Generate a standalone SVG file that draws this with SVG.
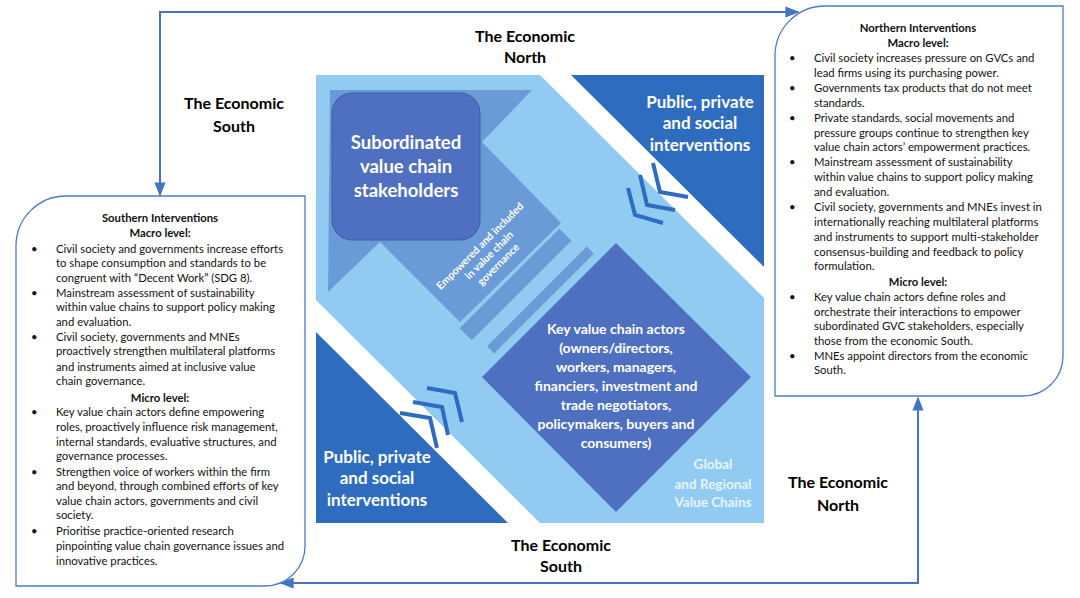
<svg xmlns="http://www.w3.org/2000/svg" width="1080" height="598" viewBox="0 0 1080 598">
<defs>
<marker id="ar" viewBox="0 0 10 10" refX="9" refY="5" markerWidth="7" markerHeight="7" orient="auto-start-reverse"><path d="M0,1 L10,5 L0,9 z" fill="#4472c4"/></marker>
<style>
text{font-family:Lato,"Open Sans","Liberation Sans",sans-serif}
.h{font-weight:bold;font-size:16px;fill:#000;text-anchor:middle}
.w{font-weight:bold;fill:#fff;text-anchor:middle}
.t{font-size:11.3px;fill:#111}
.tb{font-size:11.3px;fill:#111;font-weight:bold;text-anchor:middle}
.box{fill:#fff;stroke:#4a7bcc;stroke-width:1.3}
.ch{fill:none;stroke:#2e6cbf;stroke-width:4}
.con{fill:none;stroke:#4472c4;stroke-width:2}
</style>
</defs>
<rect width="1080" height="598" fill="#fff"/>
<g id="connectors">
<path class="con" d="M160,195 L160,12 L798,12" marker-start="url(#ar)" marker-end="url(#ar)"/>
<path class="con" d="M918,398 L918,583 L281,583" marker-start="url(#ar)" marker-end="url(#ar)"/>
</g>
<g id="gvc">
<polygon points="316,75 540,75 764,298 764,523 540,523 316,300" fill="#92cbf1"/>
<polygon points="571,75 764,75 764,267" fill="#2e6cbf"/>
<polygon points="316,332 316,523 508,523" fill="#2e6cbf"/>
<polygon points="330,90 532,90 482,142 561,223 460,322 380,242 328,292" fill="#6a9bd6"/>
<rect x="445" y="276" width="141" height="17" transform="rotate(-45 515.5 284.5)" fill="#6a9bd6"/>
<rect x="470" y="295" width="141" height="10" transform="rotate(-45 540.5 300)" fill="#6a9bd6"/>
<text class="w" font-size="10.5" font-weight="normal" transform="translate(491,257) rotate(-45)"><tspan x="0" y="-12">Empowered and included</tspan><tspan x="0" y="1">in value chain</tspan><tspan x="0" y="14">governance</tspan></text>
<g id="gvc-label"><text class="w" font-size="13.5"><tspan x="713" y="469" fill="#e8f4fd">Global</tspan><tspan x="713" y="489" fill="#e8f4fd">and Regional</tspan><tspan x="713" y="507" fill="#e8f4fd">Value Chains</tspan></text></g>
</g>
<g id="subordinated">
<rect x="332" y="93" width="148" height="147" rx="20" fill="#4f70c0" stroke="#3d5ca8"/>
<text class="w" font-size="18.5"><tspan x="406" y="149">Subordinated</tspan><tspan x="406" y="173">value chain</tspan><tspan x="406" y="197">stakeholders</tspan></text>
</g>
<g id="key-actors">
<polygon points="616,243 751,377 616,512 482,377" fill="#4f6fc0"/>
<text class="w" font-size="14"><tspan x="616" y="334">Key value chain actors</tspan><tspan x="616" y="353">(owners/directors,</tspan><tspan x="616" y="372">workers, managers,</tspan><tspan x="616" y="391">financiers, investment and</tspan><tspan x="616" y="410">trade negotiators,</tspan><tspan x="616" y="429">policymakers, buyers and</tspan><tspan x="616" y="448">consumers)</tspan></text>
</g>
<g id="interventions-north">
<text class="w" font-size="17"><tspan x="700" y="108">Public, private</tspan><tspan x="700" y="129">and social</tspan><tspan x="700" y="151">interventions</tspan></text>
<polyline class="ch" points="653,163 660,192 688,197"/>
<polyline class="ch" points="640,175 647,205 675,210"/>
<polyline class="ch" points="628,188 635,215 663,223"/>
</g>
<g id="interventions-south">
<text class="w" font-size="17"><tspan x="377" y="463">Public, private</tspan><tspan x="377" y="484">and social</tspan><tspan x="377" y="506">interventions</tspan></text>
<polyline class="ch" points="427,388 455,393 462,422"/>
<polyline class="ch" points="413,402 442,407 448,435"/>
<polyline class="ch" points="400,413 430,418 437,448"/>
</g>
<g id="labels">
<text class="h"><tspan x="525" y="42">The Economic</tspan><tspan x="525" y="63">North</tspan></text>
<text class="h"><tspan x="234" y="109">The Economic</tspan><tspan x="234" y="132">South</tspan></text>
<text class="h"><tspan x="561" y="551">The Economic</tspan><tspan x="561" y="572">South</tspan></text>
<text class="h"><tspan x="838" y="488">The Economic</tspan><tspan x="838" y="511">North</tspan></text>
</g>
<g id="southern">
<path class="box" d="M16,586 L16,246 A50,50 0 0 1 66,196 L305,196 L305,546 A40,40 0 0 1 265,586 Z"/>
<text class="tb"><tspan x="160" y="222">Southern Interventions</tspan><tspan x="160" y="237">Macro level:</tspan></text>
<text class="t"><tspan x="31" y="253">•</tspan><tspan x="56" y="253">Civil society and governments increase efforts</tspan>
<tspan x="56" y="267">to shape consumption and standards to be</tspan>
<tspan x="56" y="282">congruent with “Decent Work” (SDG 8).</tspan>
<tspan x="31" y="297">•</tspan><tspan x="56" y="297">Mainstream assessment of sustainability</tspan>
<tspan x="56" y="311">within value chains to support policy making</tspan>
<tspan x="56" y="326">and evaluation.</tspan>
<tspan x="31" y="341">•</tspan><tspan x="56" y="341">Civil society, governments and MNEs</tspan>
<tspan x="56" y="355">proactively strengthen multilateral platforms</tspan>
<tspan x="56" y="371">and instruments aimed at inclusive value</tspan>
<tspan x="56" y="385">chain governance.</tspan>
<tspan x="31" y="416">•</tspan><tspan x="56" y="416">Key value chain actors define empowering</tspan>
<tspan x="56" y="431">roles, proactively influence risk management,</tspan>
<tspan x="56" y="446">internal standards, evaluative structures, and</tspan>
<tspan x="56" y="460">governance processes.</tspan>
<tspan x="31" y="476">•</tspan><tspan x="56" y="476">Strengthen voice of workers within the firm</tspan>
<tspan x="56" y="490">and beyond, through combined efforts of key</tspan>
<tspan x="56" y="505">value chain actors, governments and civil</tspan>
<tspan x="56" y="519">society.</tspan>
<tspan x="31" y="535">•</tspan><tspan x="56" y="535">Prioritise practice-oriented research</tspan>
<tspan x="56" y="550">pinpointing value chain governance issues and</tspan>
<tspan x="56" y="565">innovative practices.</tspan></text>
<text class="tb" x="160" y="402">Micro level:</text>
</g>
<g id="northern">
<path class="box" d="M775,396 L775,56 A50,50 0 0 1 825,6 L1063,6 L1063,356 A40,40 0 0 1 1023,396 Z"/>
<text class="tb"><tspan x="918" y="32">Northern Interventions</tspan><tspan x="918" y="47">Macro level:</tspan></text>
<text class="t"><tspan x="789" y="62">•</tspan><tspan x="814" y="62">Civil society increases pressure on GVCs and</tspan>
<tspan x="814" y="77">lead firms using its purchasing power.</tspan>
<tspan x="789" y="92">•</tspan><tspan x="814" y="92">Governments tax products that do not meet</tspan>
<tspan x="814" y="107">standards.</tspan>
<tspan x="789" y="122">•</tspan><tspan x="814" y="122">Private standards, social movements and</tspan>
<tspan x="814" y="137">pressure groups continue to strengthen key</tspan>
<tspan x="814" y="151">value chain actors’ empowerment practices.</tspan>
<tspan x="789" y="166">•</tspan><tspan x="814" y="166">Mainstream assessment of sustainability</tspan>
<tspan x="814" y="181">within value chains to support policy making</tspan>
<tspan x="814" y="196">and evaluation.</tspan>
<tspan x="789" y="211">•</tspan><tspan x="814" y="211">Civil society, governments and MNEs invest in</tspan>
<tspan x="814" y="226">internationally reaching multilateral platforms</tspan>
<tspan x="814" y="241">and instruments to support multi-stakeholder</tspan>
<tspan x="814" y="256">consensus-building and feedback to policy</tspan>
<tspan x="814" y="270">formulation.</tspan>
<tspan x="789" y="301">•</tspan><tspan x="814" y="301">Key value chain actors define roles and</tspan>
<tspan x="814" y="316">orchestrate their interactions to empower</tspan>
<tspan x="814" y="330">subordinated GVC stakeholders, especially</tspan>
<tspan x="814" y="345">those from the economic South.</tspan>
<tspan x="789" y="360">•</tspan><tspan x="814" y="360">MNEs appoint directors from the economic</tspan>
<tspan x="814" y="374">South.</tspan></text>
<text class="tb" x="918" y="286">Micro level:</text>
</g>
</svg>
